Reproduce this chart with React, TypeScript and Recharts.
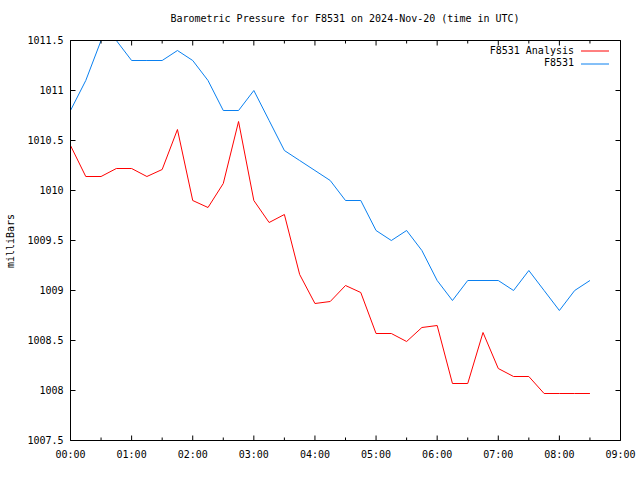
import React from 'react';
import { LineChart, Line, XAxis, YAxis, Legend } from 'recharts';

// hours since 00:00 UTC
const times = [
  0, 0.25, 0.5, 0.75, 1, 1.25, 1.5, 1.75, 2, 2.25, 2.5, 2.75, 3, 3.25, 3.5, 3.75,
  4, 4.25, 4.5, 4.75, 5, 5.25, 5.5, 5.75, 6, 6.25, 6.5, 6.75, 7, 7.25, 7.5, 7.75,
  8, 8.25, 8.5,
];

const analysis = [
  1010.45, 1010.14, 1010.14, 1010.22, 1010.22, 1010.14, 1010.21, 1010.61, 1009.9, 1009.83,
  1010.07, 1010.69, 1009.9, 1009.68, 1009.76, 1009.16, 1008.87, 1008.89, 1009.05, 1008.98,
  1008.57, 1008.57, 1008.49, 1008.63, 1008.65, 1008.07, 1008.07, 1008.58, 1008.22, 1008.14,
  1008.14, 1007.97, 1007.97, 1007.97, 1007.97,
];

const observed = [
  1010.8, 1011.1, 1011.5, 1011.5, 1011.3, 1011.3, 1011.3, 1011.4, 1011.3, 1011.1,
  1010.8, 1010.8, 1011.0, 1010.7, 1010.4, 1010.3, 1010.2, 1010.1, 1009.9, 1009.9,
  1009.6, 1009.5, 1009.6, 1009.4, 1009.1, 1008.9, 1009.1, 1009.1, 1009.1, 1009.0,
  1009.2, 1009.0, 1008.8, 1009.0, 1009.1,
];

const xTicks = [0, 0.5, 1, 1.5, 2, 2.5, 3, 3.5, 4, 4.5, 5, 5.5, 6, 6.5, 7, 7.5, 8, 8.5, 9];
const yTicks = [1007.5, 1008, 1008.5, 1009, 1009.5, 1010, 1010.5, 1011, 1011.5];

const seriesNames = ['F8531 Analysis', 'F8531'];
const seriesColors = ['#ff0000', '#0a80f0'];
const title = 'Barometric Pressure for F8531 on 2024-Nov-20 (time in UTC)';
const yLabel = 'milliBars';

const data = times.map((t, i) => ({ t, analysis: analysis[i], observed: observed[i] }));

const FONT = "'DejaVu Sans Mono', monospace";
const X_DOMAIN: [number, number] = [0, 9];
const Y_DOMAIN: [number, number] = [1007.5, 1011.5];

const isMajor = (v: number) => Math.abs(v - Math.round(v)) < 1e-6;
const fmtHour = (v: number) => `${String(Math.round(v)).padStart(2, '0')}:00`;

function BottomTick(props: any) {
  const { x, y, payload } = props;
  const v = payload.value;
  const major = isMajor(v);
  return (
    <g>
      <line x1={x} x2={x} y1={y} y2={y - (major ? 5 : 3)} stroke="#000" strokeWidth={1} />
      {major && (
        <text x={x} y={y + 17} textAnchor="middle" fontFamily={FONT} fontSize={10} fill="#000">
          {fmtHour(v)}
        </text>
      )}
    </g>
  );
}

function TopTick(props: any) {
  const { x, y, payload } = props;
  const major = isMajor(payload.value);
  return <line x1={x} x2={x} y1={y} y2={y + (major ? 5 : 3)} stroke="#000" strokeWidth={1} />;
}

function LeftTick(props: any) {
  const { x, y, payload } = props;
  return (
    <g>
      <line x1={x} x2={x + 5} y1={y} y2={y} stroke="#000" strokeWidth={1} />
      <text x={x - 7} y={y + 3.5} textAnchor="end" fontFamily={FONT} fontSize={10} fill="#000">
        {String(payload.value)}
      </text>
    </g>
  );
}

function RightTick(props: any) {
  const { x, y } = props;
  return <line x1={x} x2={x - 5} y1={y} y2={y} stroke="#000" strokeWidth={1} />;
}

function renderLegend(props: any) {
  const payload = [...(props.payload || [])].sort(
    (a: any, b: any) => seriesNames.indexOf(a.value) - seriesNames.indexOf(b.value)
  );
  return (
    <div style={{ fontFamily: FONT, fontSize: 10, lineHeight: '12.4px', color: '#000' }}>
      {payload.map((p: any, i: number) => (
        <div key={i} style={{ display: 'flex', justifyContent: 'flex-end', alignItems: 'center', height: 12.4 }}>
          <span style={{ whiteSpace: 'pre' }}>{p.value}</span>
          <svg width={28} height={10} style={{ marginLeft: 7, marginRight: 11, display: 'block' }}>
            <line x1={0} x2={28} y1={5} y2={5} stroke={p.color} strokeWidth={1} />
          </svg>
        </div>
      ))}
    </div>
  );
}

export default function App() {
  return (
    <div style={{ position: 'absolute', left: 0, top: 0, width: 640, height: 480, background: '#fff' }}>
      <LineChart
        width={640}
        height={480}
        data={data}
        margin={{ top: 39.5, right: 18.5, bottom: 9.5, left: 10.5 }}
      >
        <XAxis
          xAxisId="bottom"
          dataKey="t"
          type="number"
          domain={X_DOMAIN}
          ticks={xTicks}
          allowDataOverflow
          interval={0}
          height={30}
          tickSize={0}
          tickMargin={0}
          tickLine={false}
          axisLine={{ stroke: '#000', strokeWidth: 1 }}
          tick={<BottomTick />}
        />
        <XAxis
          xAxisId="top"
          orientation="top"
          dataKey="t"
          type="number"
          domain={X_DOMAIN}
          ticks={xTicks}
          allowDataOverflow
          interval={0}
          height={1}
          tickSize={0}
          tickMargin={0}
          tickLine={false}
          axisLine={{ stroke: '#000', strokeWidth: 1 }}
          tick={<TopTick />}
        />
        <YAxis
          yAxisId="left"
          type="number"
          domain={Y_DOMAIN}
          ticks={yTicks}
          allowDataOverflow
          interval={0}
          width={60}
          tickSize={0}
          tickMargin={0}
          tickLine={false}
          axisLine={{ stroke: '#000', strokeWidth: 1 }}
          tick={<LeftTick />}
        />
        <YAxis
          yAxisId="right"
          orientation="right"
          type="number"
          domain={Y_DOMAIN}
          ticks={yTicks}
          allowDataOverflow
          interval={0}
          width={1}
          tickSize={0}
          tickMargin={0}
          tickLine={false}
          axisLine={{ stroke: '#000', strokeWidth: 1 }}
          tick={<RightTick />}
        />
        <Legend
          layout="horizontal"
          verticalAlign="middle"
          align="center"
          wrapperStyle={{ top: 45, left: 440, width: 180, right: 'auto', bottom: 'auto' }}
          content={renderLegend}
        />
        <Line
          xAxisId="top"
          yAxisId="right"
          type="linear"
          dataKey="analysis"
          name={seriesNames[0]}
          stroke={seriesColors[0]}
          strokeWidth={1}
          dot={false}
          activeDot={false}
          isAnimationActive={false}
        />
        <Line
          xAxisId="bottom"
          yAxisId="left"
          type="linear"
          dataKey="observed"
          name={seriesNames[1]}
          stroke={seriesColors[1]}
          strokeWidth={1}
          dot={false}
          activeDot={false}
          isAnimationActive={false}
        />
      </LineChart>
      <svg
        width={640}
        height={480}
        style={{ position: 'absolute', left: 0, top: 0, pointerEvents: 'none' }}
      >
        <text x={345} y={22} textAnchor="middle" fontFamily={FONT} fontSize={10} fill="#000">
          {title}
        </text>
        <text
          x={14}
          y={241}
          textAnchor="middle"
          fontFamily={FONT}
          fontSize={10}
          fill="#000"
          transform="rotate(-90, 14, 241)"
        >
          {yLabel}
        </text>
      </svg>
    </div>
  );
}
